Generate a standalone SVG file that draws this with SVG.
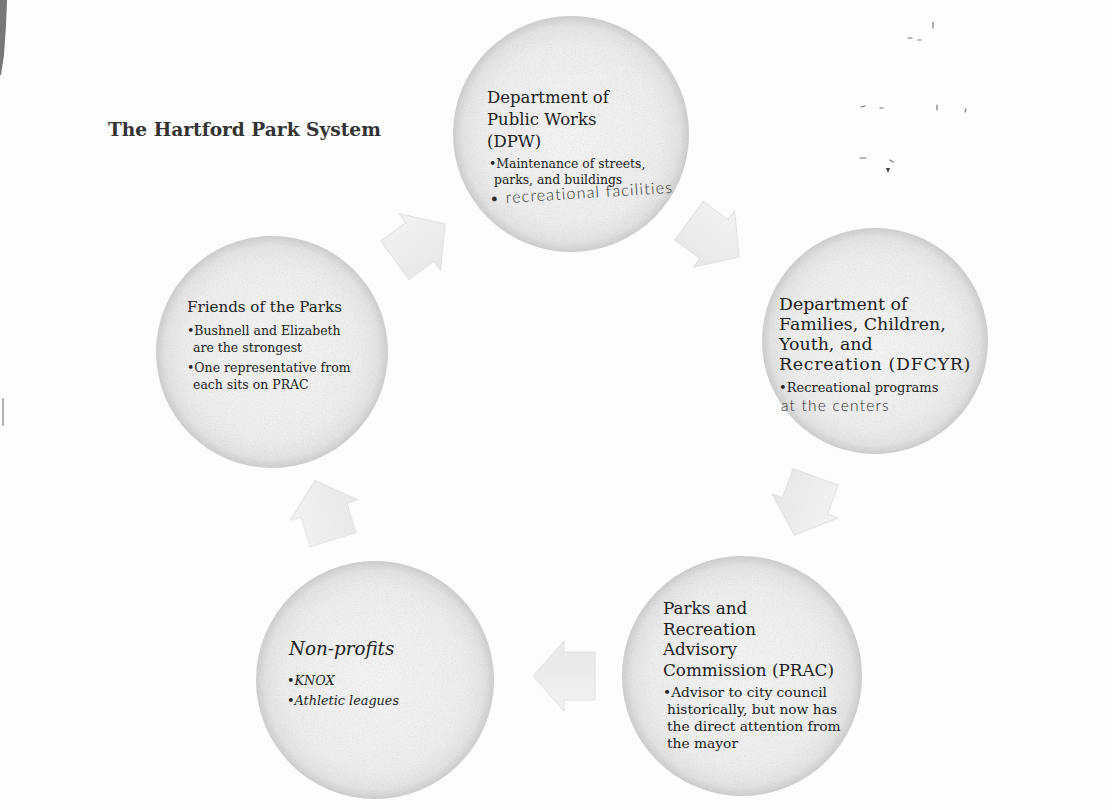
<svg xmlns="http://www.w3.org/2000/svg" width="1112" height="810" viewBox="0 0 1112 810">
  <style>
    .head { font-family: "DejaVu Serif", "Liberation Serif", serif; fill: #222222; }
    .body { font-family: "DejaVu Serif", "Liberation Serif", serif; fill: #222222; }
    .hand { font-family: "Lato", "DejaVu Sans", sans-serif; font-weight: 300; fill: #2e2e2e; letter-spacing: 1.2px; }
    .title { font-family: "DejaVu Serif", "Liberation Serif", serif; font-weight: bold; fill: #333333; }
    .arrow { fill: url(#arrowGrad); stroke: #e0e0e0; stroke-width: 1; }
    .node { fill: url(#nodeGrad); filter: url(#grain); }
    .speck { stroke: #777777; stroke-width: 1.2; fill: none; stroke-linecap: round; }
  </style>
  <defs>
    <radialGradient id="nodeGrad" cx="50%" cy="50%" r="50%">
      <stop offset="0" stop-color="#f4f4f4"/>
      <stop offset="0.75" stop-color="#eeeeee"/>
      <stop offset="0.92" stop-color="#e3e3e3"/>
      <stop offset="1" stop-color="#cdcdcd"/>
    </radialGradient>
    <linearGradient id="arrowGrad" x1="0" y1="0" x2="0" y2="1">
      <stop offset="0" stop-color="#f2f2f2"/>
      <stop offset="1" stop-color="#e7e7e7"/>
    </linearGradient>
    <filter id="grain" x="0" y="0" width="100%" height="100%">
      <feTurbulence type="fractalNoise" baseFrequency="0.9" numOctaves="2" seed="4" result="n"/>
      <feColorMatrix in="n" type="matrix" values="0 0 0 0 0.5  0 0 0 0 0.5  0 0 0 0 0.5  0.7 0 0 0 -0.3" result="a"/>
      <feComposite in="a" in2="SourceGraphic" operator="in" result="s"/>
      <feMerge><feMergeNode in="SourceGraphic"/><feMergeNode in="s"/></feMerge>
    </filter>
  </defs>

  <rect x="0" y="0" width="1112" height="810" fill="#fdfdfd"/>
  <path d="M0,0 L7,0 L6,25 L4,55 L1,75 L0,75 Z" fill="#4a4a4a" opacity="0.75"/>
  <path d="M3,398 L3,426" stroke="#9a9a9a" stroke-width="1.5"/>
  <g id="scan-marks">
    <path class="speck" d="M908,38 l4,0 M918,40 l3,0 M933,22 l0,6 M861,107 l4,-1 M880,108 l3,0 M937,105 l0,5 M965,112 l1,-3 M860,158 l6,0 M890,160 l3,2"/>
    <path d="M886,168 l4,0 l-2,5 z" fill="#444444"/>
  </g>

  <text class="title" x="108" y="136" font-size="18.6">The Hartford Park System</text>

  <g id="connectors">
    <polygon class="arrow" points="-31,-24 0,-24 0,-35 31,0 0,35 0,24 -31,24" transform="translate(714,239) rotate(36)"/>
    <polygon class="arrow" points="-31,-24 0,-24 0,-35 31,0 0,35 0,24 -31,24" transform="translate(805,506) rotate(110)"/>
    <polygon class="arrow" points="-31,-24 0,-24 0,-35 31,0 0,35 0,24 -31,24" transform="translate(564,676) rotate(180)"/>
    <polygon class="arrow" points="-31,-24 0,-24 0,-35 31,0 0,35 0,24 -31,24" transform="translate(324,510) rotate(253)"/>
    <polygon class="arrow" points="-31,-24 0,-24 0,-35 31,0 0,35 0,24 -31,24" transform="translate(420,242) rotate(-36)"/>
  </g>

  <g id="dpw">
    <circle class="node" cx="571" cy="134" r="118"/>
    <text class="head" font-size="16.5"><tspan x="487" y="103">Department of</tspan><tspan x="487" y="125">Public Works</tspan><tspan x="487" y="147">(DPW)</tspan></text>
    <text class="body" font-size="12.4"><tspan x="489" y="168">•Maintenance of streets,</tspan><tspan x="494" y="184">parks, and buildings</tspan></text>
    <text class="hand" font-size="16" transform="rotate(-3.5 490 204)" x="490" y="204">• recreational facilities</text>
  </g>

  <g id="dfcyr">
    <circle class="node" cx="875" cy="341" r="113"/>
    <text class="head" font-size="17.4"><tspan x="779" y="310">Department of</tspan><tspan x="779" y="330">Families, Children,</tspan><tspan x="779" y="350">Youth, and</tspan><tspan x="779" y="370" letter-spacing="0.7">Recreation (DFCYR)</tspan></text>
    <text class="body" font-size="13"><tspan x="779" y="392">•Recreational programs</tspan></text>
    <text class="hand" font-size="15.5" x="781" y="411">at the centers</text>
  </g>

  <g id="prac">
    <circle class="node" cx="742" cy="676" r="120"/>
    <text class="head" font-size="16.8"><tspan x="663" y="614">Parks and</tspan><tspan x="663" y="635">Recreation</tspan><tspan x="663" y="655">Advisory</tspan><tspan x="663" y="676">Commission (PRAC)</tspan></text>
    <text class="body" font-size="13.8"><tspan x="663" y="697">•Advisor to city council</tspan><tspan x="667" y="714">historically, but now has</tspan><tspan x="667" y="731">the direct attention from</tspan><tspan x="667" y="748">the mayor</tspan></text>
  </g>

  <g id="nonprofits">
    <circle class="node" cx="375" cy="680" r="119"/>
    <text class="head" font-size="18.3" font-style="italic" x="289" y="655">Non-profits</text>
    <text class="body" font-size="12.8" font-style="italic"><tspan x="287" y="685">•KNOX</tspan><tspan x="287" y="705">•Athletic leagues</tspan></text>
  </g>

  <g id="friends">
    <circle class="node" cx="272" cy="352" r="116"/>
    <text class="head" font-size="15.1" x="187" y="312">Friends of the Parks</text>
    <text class="body" font-size="12.5"><tspan x="187" y="335">•Bushnell and Elizabeth</tspan><tspan x="193" y="352">are the strongest</tspan><tspan x="187" y="372">•One representative from</tspan><tspan x="193" y="389">each sits on PRAC</tspan></text>
  </g>
</svg>
